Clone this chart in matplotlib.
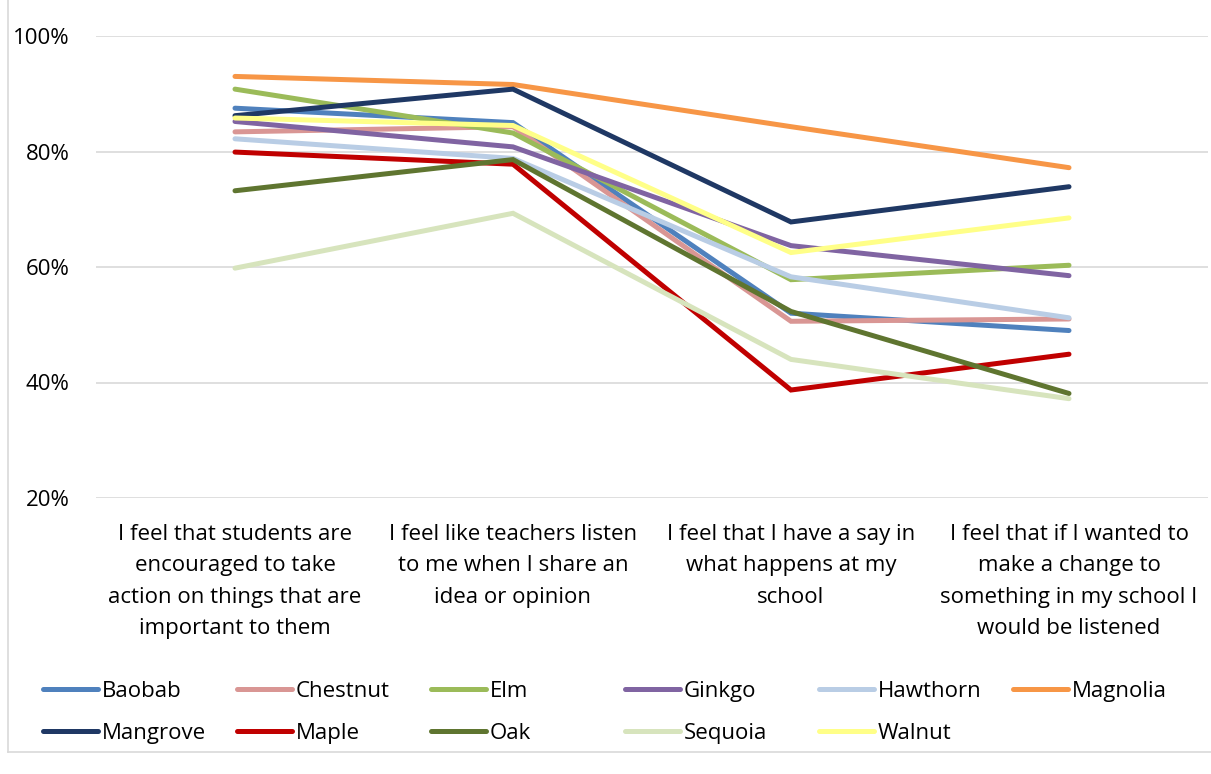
import matplotlib.pyplot as plt
from matplotlib.lines import Line2D

plt.rcParams['font.family'] = ['Open Sans', 'DejaVu Sans']

# survey statements along the x axis
categories = [
    "I feel that students are\nencouraged to take\naction on things that are\nimportant to them",
    "I feel like teachers listen\nto me when I share an\nidea or opinion",
    "I feel that I have a say in\nwhat happens at my\nschool",
    "I feel that if I wanted to\nmake a change to\nsomething in my school I\nwould be listened",
]

# share of agreeing students (%) per school
baobab = [87.5, 85.0, 52.0, 49.0]
chestnut = [83.4, 84.3, 50.6, 51.0]
elm = [90.8, 83.2, 57.8, 60.3]
ginkgo = [85.2, 80.8, 63.7, 58.5]
hawthorn = [82.2, 78.8, 58.3, 51.2]
magnolia = [93.0, 91.6, 84.3, 77.2]
mangrove = [86.2, 90.8, 67.8, 73.9]
maple = [79.9, 77.8, 38.7, 44.9]
oak = [73.2, 78.6, 52.3, 38.1]
sequoia = [59.8, 69.3, 44.0, 37.2]
walnut = [85.8, 84.5, 62.5, 68.5]

names = ['Baobab', 'Chestnut', 'Elm', 'Ginkgo', 'Hawthorn', 'Magnolia',
         'Mangrove', 'Maple', 'Oak', 'Sequoia', 'Walnut']
series = [baobab, chestnut, elm, ginkgo, hawthorn, magnolia,
          mangrove, maple, oak, sequoia, walnut]
colors = ['#4F81BD', '#D99694', '#9BBB59', '#8064A2', '#B9CDE5', '#F79646',
          '#1F3864', '#C00000', '#5F7530', '#D7E4BD', '#FFFF88']

LW = 3.6
W, H = 1211, 774

fig = plt.figure(figsize=(W / 100, H / 100), dpi=100)
ax = fig.add_axes([96 / W, 276 / H, 1112 / W, 462 / H])

x = list(range(len(categories)))
for name, vals, col in zip(names, series, colors):
    ax.plot(x, vals, color=col, linewidth=LW, solid_capstyle='round',
            solid_joinstyle='miter', label=name)

ax.set_xlim(-0.5, 3.5)
ax.set_ylim(20, 100)
ax.set_yticks([20, 40, 60, 80, 100])
ax.set_yticklabels(['20%', '40%', '60%', '80%', '100%'], fontsize=16)
ax.set_xticks(x)
ax.set_xticklabels(categories, fontsize=16, linespacing=1.66, va='top')
ax.tick_params(axis='y', length=0, pad=19)
ax.tick_params(axis='x', length=0, pad=18.5)
ax.grid(axis='y', color='#D9D9D9', linewidth=1.2)
ax.set_axisbelow(True)
for s in ax.spines.values():
    s.set_visible(False)

# legend: 6 fixed-width columns, 2 rows (pixel layout)
for i, (name, col) in enumerate(zip(names, colors)):
    row, c = divmod(i, 6)
    x0 = 43 + 194 * c
    y0 = 689 + 42 * row
    fig.add_artist(Line2D([x0 / W, (x0 + 55) / W], [1 - y0 / H, 1 - y0 / H],
                          color=col, linewidth=LW, solid_capstyle='round'))
    fig.text((x0 + 59) / W, 1 - y0 / H, name, fontsize=16,
             va='center_baseline', ha='left')

# chart area border
fig.add_artist(Line2D([8 / W, 8 / W], [22 / H, 1.0],
                      color='#D9D9D9', linewidth=1.2))
fig.add_artist(Line2D([8 / W, 1.0], [22 / H, 22 / H],
                      color='#D9D9D9', linewidth=1.2))

fig.savefig('out.png', dpi=100)
